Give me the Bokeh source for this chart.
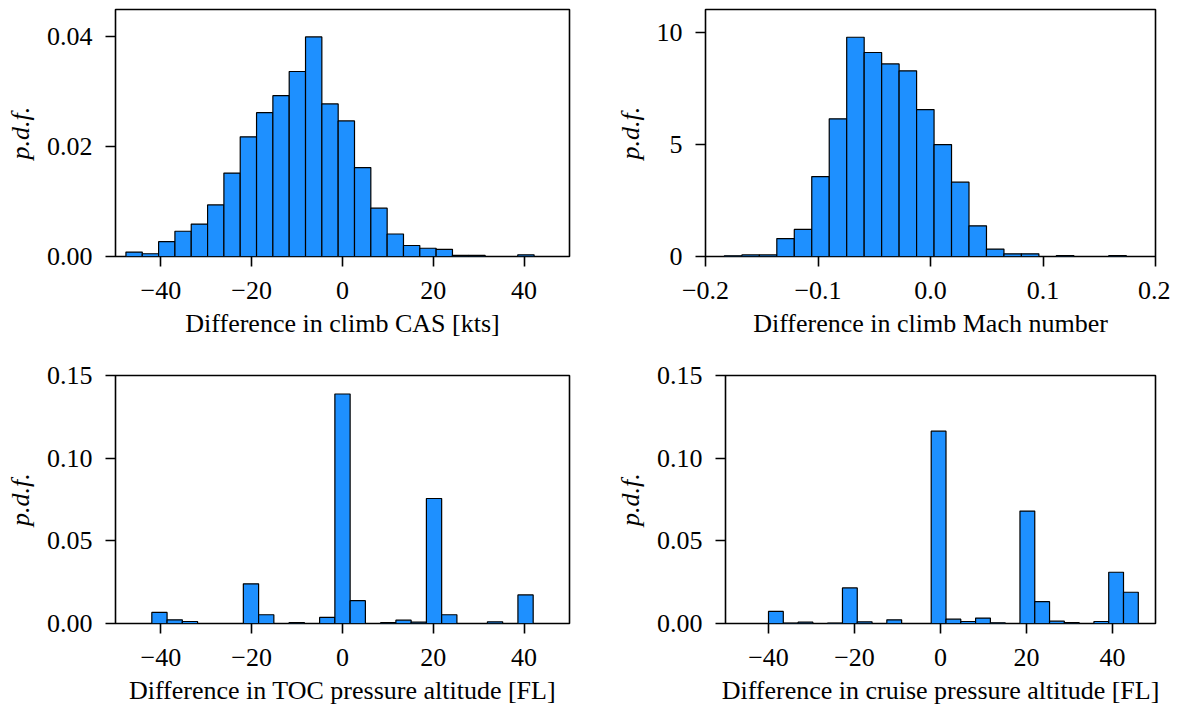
import numpy as np
from bokeh.plotting import figure
from bokeh.layouts import column, row
from bokeh.models import FixedTicker, Range1d
from bokeh.embed import file_html
from bokeh.resources import INLINE

FONT = "Liberation Serif"

# ---- Panel 1: climb CAS difference [kts]
cas_bin_range = (-47.7, 42.2)
cas_pdf = [0.0008, 0.0005, 0.0027, 0.0046, 0.0059, 0.0094, 0.0152, 0.0218, 0.0262, 0.0293,
           0.0337, 0.0400, 0.0278, 0.0247, 0.0162, 0.0088, 0.0041, 0.0020, 0.0015, 0.0013,
           0.0002, 0.0002, 0.0, 0.0, 0.0003]
cas_xticks = [-40, -20, 0, 20, 40]
cas_xlabels = ["\u221240", "\u221220", "0", "20", "40"]
cas_yticks = [0.0, 0.02, 0.04]
cas_ylabels = ["0.00", "0.02", "0.04"]

# ---- Panel 2: climb Mach difference
mach_bin_range = (-0.1832, 0.1740)
mach_pdf = [0.03, 0.07, 0.07, 0.80, 1.21, 3.57, 6.15, 9.79, 9.11, 8.60, 8.29, 6.56, 5.00,
            3.32, 1.37, 0.33, 0.12, 0.12, 0.0, 0.04, 0.0, 0.0, 0.04]
mach_xticks = [-0.2, -0.1, 0.0, 0.1, 0.2]
mach_xlabels = ["\u22120.2", "\u22120.1", "0.0", "0.1", "0.2"]
mach_yticks = [0, 5, 10]
mach_ylabels = ["0", "5", "10"]

# ---- Panel 3: TOC pressure altitude difference [FL]
toc_bin_range = (-42.0, 42.0)
toc_pdf = [0.0067, 0.0022, 0.0012, 0.0, 0.0, 0.0, 0.0240, 0.0053, 0.0, 0.0006,
           0.0, 0.0037, 0.1388, 0.0138, 0.0, 0.0005, 0.0020, 0.0008, 0.0756, 0.0053,
           0.0, 0.0, 0.0010, 0.0, 0.0173]

# ---- Panel 4: cruise pressure altitude difference [FL]
cru_bin_range = (-40.0, 46.0)
cru_pdf = [0.0073, 0.0003, 0.0008, 0.0, 0.0003, 0.0215, 0.0010, 0.0, 0.0022, 0.0,
           0.0, 0.1163, 0.0026, 0.0012, 0.0033, 0.0004, 0.0, 0.0680, 0.0132, 0.0014,
           0.0006, 0.0, 0.0012, 0.0310, 0.0189]

fl_xticks = [-40, -20, 0, 20, 40]
fl_xlabels = ["\u221240", "\u221220", "0", "20", "40"]
fl_yticks = [0.0, 0.05, 0.10, 0.15]
fl_ylabels = ["0.00", "0.05", "0.10", "0.15"]

x_labels = ["Difference in climb CAS [kts]", "Difference in climb Mach number",
            "Difference in TOC pressure altitude [FL]", "Difference in cruise pressure altitude [FL]"]
y_label = "p.d.f."


def panel(bin_range, pdf, xr, yr, xt, xl, yt, yl, xlabel, w, h, bl, br, bt, bb):
    p = figure(width=w, height=h, x_range=Range1d(*xr), y_range=Range1d(*yr),
               output_backend="svg", toolbar_location=None, tools="",
               min_border_left=bl, min_border_right=br, min_border_top=bt, min_border_bottom=bb)
    edges = np.linspace(bin_range[0], bin_range[1], len(pdf) + 1)
    p.quad(left=edges[:-1], right=edges[1:], bottom=0, top=pdf,
           fill_color="#1E90FF", line_color="black", line_width=1.2)
    p.grid.visible = False
    p.background_fill_color = "white"
    p.border_fill_color = "white"
    p.outline_line_color = "black"
    p.outline_line_width = 1.6
    p.outline_line_alpha = 1.0
    p.xaxis.ticker = FixedTicker(ticks=xt, minor_ticks=[])
    p.yaxis.ticker = FixedTicker(ticks=yt, minor_ticks=[])
    p.xaxis.major_label_overrides = dict(zip(xt, xl))
    p.yaxis.major_label_overrides = dict(zip(yt, yl))
    for ax in (p.xaxis, p.yaxis):
        ax.axis_line_color = None
        ax.major_tick_in = 0
        ax.major_tick_out = 10
        ax.major_tick_line_width = 1.6
        ax.major_tick_line_color = "black"
        ax.major_label_text_font = FONT
        ax.major_label_text_font_size = "26px"
        ax.major_label_text_color = "black"
        ax.axis_label_text_font = FONT
        ax.axis_label_text_font_size = "26px"
        ax.axis_label_text_color = "black"
    p.xaxis.major_label_standoff = 15
    p.xaxis.axis_label_standoff = 7
    p.xaxis.axis_label = xlabel
    p.xaxis.axis_label_text_font_style = "normal"
    p.yaxis.major_label_standoff = 13
    p.yaxis.axis_label_standoff = 9
    p.yaxis.axis_label = y_label
    p.yaxis.axis_label_text_font_style = "italic"
    return p


p1 = panel(cas_bin_range, cas_pdf, (-50, 50), (0, 0.0450), cas_xticks, cas_xlabels,
           cas_yticks, cas_ylabels, x_labels[0], 612, 361, 115, 43, 9, 105)
p2 = panel(mach_bin_range, mach_pdf, (-0.2, 0.2), (0, 11.03), mach_xticks, mach_xlabels,
           mach_yticks, mach_ylabels, x_labels[1], 558, 361, 90, 15, 9, 105)
p3 = panel(toc_bin_range, toc_pdf, (-50, 50), (0, 0.15), fl_xticks, fl_xlabels,
           fl_yticks, fl_ylabels, x_labels[2], 612, 349, 115, 43, 14, 87)
p4 = panel(cru_bin_range, cru_pdf, (-50, 50), (0, 0.15), fl_xticks, fl_xlabels,
           fl_yticks, fl_ylabels, x_labels[3], 558, 349, 90, 15, 14, 87)

layout = column(row(p1, p2), row(p3, p4))

open("out.html", "w").write(file_html(layout, INLINE))
